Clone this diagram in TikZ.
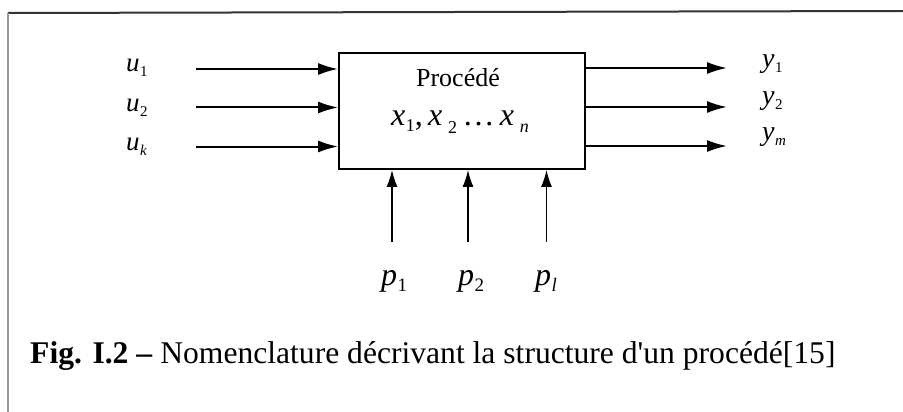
\documentclass[tikz,border=0pt]{standalone}
\usepackage{fontspec}
\setmainfont{Liberation Serif}
\usetikzlibrary{arrows.meta}
\newcommand{\vv}[5]{{\fontsize{#1}{#1}\selectfont\itshape #3}\kern0.5pt\raisebox{-#5pt}{\fontsize{#2}{#2}\selectfont #4}}
\tikzset{
  blk/.style={draw, line width=1.8pt, minimum width=246pt, minimum height=116pt, inner sep=0pt},
  hflow/.style={line width=2pt, -{Latex[length=20pt,width=12pt]}},
  vflow/.style={line width=1.6pt, -{Latex[length=17pt,width=11pt]}},
  lbl/.style={anchor=base west, inner sep=0pt},
  plbl/.style={anchor=base, inner sep=0pt},
}
\begin{document}
\begin{tikzpicture}[x=1pt,y=-1pt]
\useasboundingbox (0,0) rectangle (903,412);
\fill[white] (0,0) rectangle (903,412);
% frame
\coordinate (fTL) at (8,13);
\coordinate (fTR) at (903,11);
\coordinate (fBL) at (8,412);
\draw[line width=2pt, black!80] (fTL) -- (fTR);
\draw[line width=1.6pt, black!40] (fTL) -- (fBL);
% block
\node[blk] (box) at (462,111) {};
\node[plbl] (proc) at (458,87) {\fontsize{26}{26}\selectfont Procédé};
\node[plbl] (xs) at (460,125) {\vv{32}{18}{x}{\upshape 1}{6}{\fontsize{32}{32}\selectfont ,\,}\vv{32}{18}{x\,}{\upshape 2}{8}{\fontsize{32}{32}\selectfont\,…\,}\vv{32}{18}{x\,}{\itshape n}{7}};
% inputs
\coordinate (i1) at (196,69);
\coordinate (i2) at (196,107.5);
\coordinate (i3) at (196,146.5);
\draw[hflow] (i1) -- (i1 -| box.west);
\draw[hflow] (i2) -- (i2 -| box.west);
\draw[hflow] (i3) -- (i3 -| box.west);
\node[lbl] (u1) at (126,72) {\vv{27}{15}{u}{\upshape 1}{5}};
\node[lbl] (u2) at (126,112) {\vv{27}{15}{u}{\upshape 2}{5}};
\node[lbl] (uk) at (126,150) {\vv{27}{15}{u}{\itshape k}{5}};
% outputs
\coordinate (o1) at (727,68);
\coordinate (o2) at (727,107);
\coordinate (o3) at (727,146);
\draw[hflow] (o1 -| box.east) -- (o1);
\draw[hflow] (o2 -| box.east) -- (o2);
\draw[hflow] (o3 -| box.east) -- (o3);
\node[lbl] (y1) at (762,68) {\vv{28}{15}{y}{\upshape 1}{5}};
\node[lbl] (y2) at (762,105) {\vv{28}{15}{y}{\upshape 2}{5}};
\node[lbl] (ym) at (762,140) {\vv{28}{15}{y}{\itshape m}{5}};
% parameters
\coordinate (q1) at (392,242);
\coordinate (q2) at (468,242);
\coordinate (q3) at (546.5,242);
\draw[vflow] (q1) -- (q1 |- box.south);
\draw[vflow] (q2) -- (q2 |- box.south);
\draw[vflow] (q3) -- (q3 |- box.south);
\node[plbl] (p1) at (394,285) {\vv{32}{19}{p}{\upshape 1}{6}};
\node[plbl] (p2) at (471,285) {\vv{32}{19}{p}{\upshape 2}{6}};
\node[plbl] (pl) at (546,285) {\vv{32}{19}{p}{\itshape l}{6}};
% caption
\node[lbl] (cap) at (30,363) {\fontsize{31.6}{32}\selectfont\textbf{Fig. I.2 –} Nomenclature décrivant la structure d\textquotesingle un procédé[15]};
\end{tikzpicture}
\end{document}
